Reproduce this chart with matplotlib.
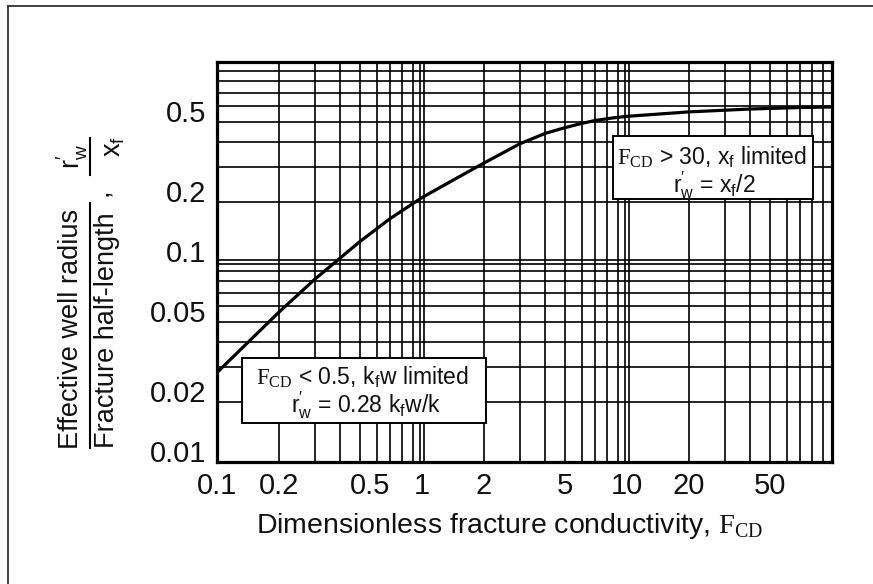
import numpy as np
import matplotlib
matplotlib.use("Agg")
import matplotlib.pyplot as plt
import matplotlib.transforms as mtransforms
from matplotlib.lines import Line2D
from matplotlib.patches import Rectangle
from matplotlib.ticker import FixedLocator, FixedFormatter, NullLocator

plt.rcParams["font.family"] = ["Liberation Sans", "DejaVu Sans"]
plt.rcParams["mathtext.fontset"] = "custom"
plt.rcParams["mathtext.rm"] = "Liberation Sans"
plt.rcParams["mathtext.it"] = "Liberation Sans:italic"
plt.rcParams["mathtext.sf"] = "Liberation Serif"

# Effective well radius ratio vs dimensionless fracture conductivity
fcd = [0.1, 0.2, 0.3, 0.5, 0.7, 1.0, 1.5, 2.0, 3.0, 4.0, 5.0, 6.0, 7.0, 8.5,
       10, 20, 40, 70, 100]
ratio = [0.028, 0.056, 0.082, 0.127, 0.165, 0.21, 0.265, 0.312, 0.39, 0.44,
         0.47, 0.493, 0.51, 0.525, 0.535, 0.563, 0.582, 0.592, 0.596]

x_ticks = [0.1, 0.2, 0.5, 1, 2, 5, 10, 20, 50]
x_tick_labels = ["0.1", "0.2", "0.5", "1", "2", "5", "10", "20", "50"]
y_ticks = [0.01, 0.02, 0.05, 0.1, 0.2, 0.5]
y_tick_labels = ["0.01", "0.02", "0.05", "0.1", "0.2", "0.5"]

W, H = 873, 584
fig = plt.figure(figsize=(W / 100, H / 100), dpi=100)
ax = fig.add_axes([217 / W, 1 - 462 / H, 615 / W, 400 / H])
ax.set_xscale("log")
ax.set_yscale("log")
ax.set_xlim(0.1, 100)
ax.set_ylim(0.01, 1.0)

# log-cycle grid: every 1..9 step, decade lines drawn doubled
grid_kw = dict(color="black", lw=1.2, zorder=1)
for e in (-1, 0, 1):
    for m in range(2, 10):
        v = m * 10.0 ** e
        ax.plot([v, v], [0, 1], transform=ax.get_xaxis_transform(), **grid_kw)
for e in (-2, -1):
    for m in range(2, 10):
        v = m * 10.0 ** e
        ax.plot([0, 1], [v, v], transform=ax.get_yaxis_transform(), **grid_kw)
for v in (1, 10):
    for dx in (-2, 2):
        t = mtransforms.offset_copy(ax.get_xaxis_transform(), fig=fig, x=dx, y=0, units="dots")
        ax.plot([v, v], [0, 1], transform=t, **grid_kw)
for v in (0.1,):
    for dy in (-2, 2):
        t = mtransforms.offset_copy(ax.get_yaxis_transform(), fig=fig, x=0, y=dy, units="dots")
        ax.plot([0, 1], [v, v], transform=t, **grid_kw)

ax.plot(fcd, ratio, color="black", lw=2.3, zorder=3, solid_joinstyle="round")

for s in ax.spines.values():
    s.set_linewidth(2.3)
    s.set_zorder(6)

ax.xaxis.set_major_locator(FixedLocator(x_ticks))
ax.xaxis.set_major_formatter(FixedFormatter(x_tick_labels))
ax.yaxis.set_major_locator(FixedLocator(y_ticks))
ax.yaxis.set_major_formatter(FixedFormatter(y_tick_labels))
ax.xaxis.set_minor_locator(NullLocator())
ax.yaxis.set_minor_locator(NullLocator())
ax.tick_params(which="both", length=0, labelsize=21, colors="#111111")
ax.tick_params(axis="x", pad=7)
ax.tick_params(axis="y", pad=8)
for lab in ax.get_yticklabels():
    lab.set_verticalalignment("baseline")
for lab in ax.get_xticklabels():
    if lab.get_text() == "0.5":
        lab.set_transform(lab.get_transform() + mtransforms.ScaledTranslation(10 / 100, 0, fig.dpi_scale_trans))

ax.set_xlabel(r"Dimensionless fracture conductivity, $\mathsf{F}_\mathsf{CD}$", fontsize=20.5, color="#111111")
ax.xaxis.set_label_coords(0.476, -0.122)

# annotation boxes
box_kw = dict(transform=ax.transAxes, fc="white", ec="black", lw=1.4, zorder=7)
ax.add_patch(Rectangle((0.644, 0.6575), 0.325, 0.1575, **box_kw))
ax.add_patch(Rectangle((0.040, 0.098), 0.397, 0.162, **box_kw))
txt_kw = dict(transform=ax.transAxes, ha="center", va="center", fontsize=16.5, color="#111111", zorder=8)
ax.text(0.805, 0.7625, r"$\mathsf{F}_\mathsf{CD}$ > 30, x$_\mathrm{f}$ limited", **txt_kw)
ax.text(0.808, 0.6925, r"r$_\mathrm{w}^{\prime}$ = x$_\mathrm{f}$/2", **txt_kw)
ax.text(0.236, 0.213, r"$\mathsf{F}_\mathsf{CD}$ < 0.5, k$_\mathrm{f}$w limited", **txt_kw)
ax.text(0.242, 0.1425, r"r$_\mathrm{w}^{\prime}$ = 0.28 k$_\mathrm{f}$w/k", **txt_kw)

# stacked y-axis label
def fx(x):
    return x / W

def fy(y):
    return 1 - y / H

lab_kw = dict(rotation=90, ha="center", va="center", fontsize=19.5, color="#111111")
fig.text(fx(71), fy(329), "Effective well radius", **lab_kw)
fig.text(fx(107), fy(330), "Fracture half-length", **lab_kw)
fig.text(fx(101), fy(192), ",", **lab_kw)
fig.text(fx(72), fy(156), r"r$_\mathrm{w}^{\prime}$", **lab_kw)
fig.text(fx(114), fy(146), r"x$_\mathrm{f}$", **lab_kw)
fig.add_artist(Line2D([fx(90), fx(90)], [fy(448), fy(203)], transform=fig.transFigure, color="black", lw=1.5))
fig.add_artist(Line2D([fx(90), fx(90)], [fy(175), fy(138)], transform=fig.transFigure, color="black", lw=1.5))

# outer frame
fig.add_artist(Line2D([fx(8), fx(8)], [0, fy(6)], transform=fig.transFigure, color="#333333", lw=1.3))
fig.add_artist(Line2D([fx(8), 1.0], [fy(6), fy(6)], transform=fig.transFigure, color="#333333", lw=1.3))

fig.savefig("out.png", dpi=100)
